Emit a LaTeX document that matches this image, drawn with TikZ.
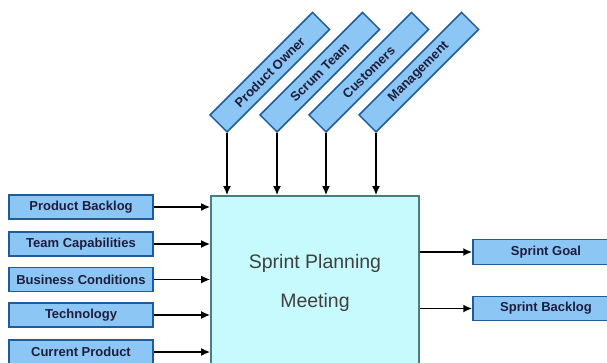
\documentclass[tikz,border=0pt]{standalone}
\usepackage{fontspec}
\setmainfont{Liberation Sans}
\usetikzlibrary{arrows.meta}
\definecolor{boxfill}{HTML}{8CC6F5}
\definecolor{boxline}{HTML}{1F5C9C}
\definecolor{meetfill}{HTML}{C6FAFC}
\definecolor{meetline}{HTML}{4C7C82}
\definecolor{labeltext}{HTML}{1E1E3C}
\tikzset{
  inbox/.style={draw=boxline, fill=boxfill, line width=1.5pt, minimum width=144pt,
    minimum height=24pt, inner sep=0pt, text=labeltext,
    font=\fontsize{13}{15}\selectfont\bfseries},
  meetbox/.style={draw=meetline, fill=meetfill, line width=1.6pt, minimum width=208pt,
    minimum height=173pt, inner sep=0pt, align=center, text=black!75,
    font=\fontsize{19.5}{39}\selectfont},
  flow/.style={line width=1.8pt, -{Latex[length=9pt,width=8pt]}}
}
\begin{document}
\begin{tikzpicture}[x=1pt,y=1pt]
\useasboundingbox (0,0) rectangle (607,362);
\clip (0,0) rectangle (607,362);
\fill[white] (0,0) rectangle (607,362);

% central meeting box (runs past the lower edge)
\node[meetbox] (meet) at (315,79.5) {Sprint Planning\\Meeting};

% participants, tilted
\node[inbox, minimum width=145pt, rotate=45, anchor=south west] (po) at (227,229) {Product Owner};
\node[inbox, minimum width=145pt, rotate=45, anchor=south west] (st) at (277,229) {Scrum Team};
\node[inbox, minimum width=145pt, rotate=45, anchor=south west] (cu) at (326,229) {Customers};
\node[inbox, minimum width=145pt, rotate=45, anchor=south west] (mg) at (376,229) {Management};

\foreach \n in {po,st,cu,mg}
  \draw[flow] (\n.south west) -- (\n.south west |- meet.north);

% inputs
\node[inbox] (pb) at (81,155) {Product Backlog};
\node[inbox] (tc) at (81,118) {Team Capabilities};
\node[inbox] (bc) at (81,82.5) {Business Conditions};
\node[inbox] (te) at (81,47) {Technology};
\node[inbox] (cp) at (81,10) {Current Product};

\foreach \n in {pb,tc,bc,te,cp}
  \draw[flow] (\n.east) -- (\n.east -| meet.west);

% outputs
\node[inbox, minimum width=146pt, minimum height=25pt] (sg) at (546,110) {Sprint Goal};
\node[inbox, minimum width=146pt] (sb) at (546,53.5) {Sprint Backlog};

\foreach \n in {sg,sb}
  \draw[flow] (\n.west -| meet.east) -- (\n.west);
\end{tikzpicture}
\end{document}
